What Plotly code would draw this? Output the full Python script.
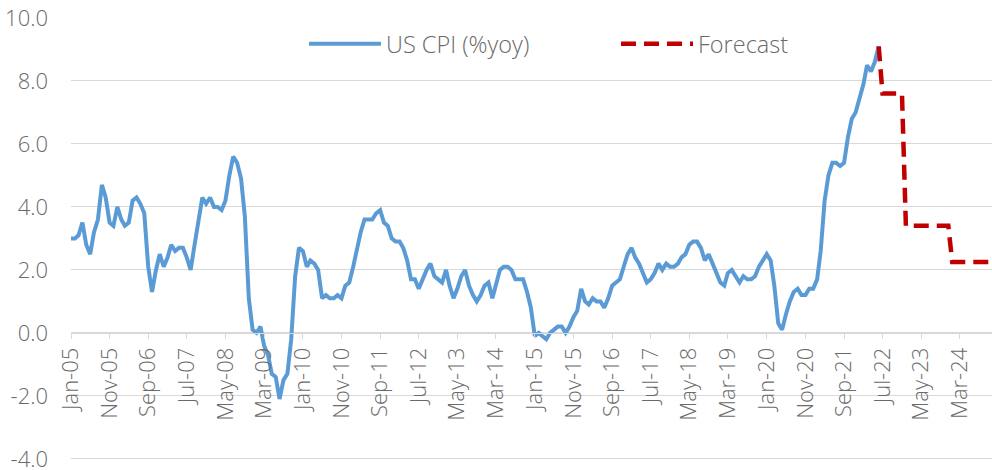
import pandas as pd
import plotly.graph_objects as go

# US CPI (%yoy), monthly, Jan-05 .. Jun-22
cpi_yoy = [
    3.0, 3.0, 3.1, 3.5, 2.8, 2.5, 3.2, 3.6, 4.7, 4.3, 3.5, 3.4,   # 2005
    4.0, 3.6, 3.4, 3.5, 4.2, 4.3, 4.1, 3.8, 2.1, 1.3, 2.0, 2.5,   # 2006
    2.1, 2.4, 2.8, 2.6, 2.7, 2.7, 2.4, 2.0, 2.8, 3.5, 4.3, 4.1,   # 2007
    4.3, 4.0, 4.0, 3.9, 4.2, 5.0, 5.6, 5.4, 4.9, 3.7, 1.1, 0.1,   # 2008
    0.0, 0.2, -0.4, -0.7, -1.3, -1.4, -2.1, -1.5, -1.3, -0.2, 1.8, 2.7,  # 2009
    2.6, 2.1, 2.3, 2.2, 2.0, 1.1, 1.2, 1.1, 1.1, 1.2, 1.1, 1.5,   # 2010
    1.6, 2.1, 2.7, 3.2, 3.6, 3.6, 3.6, 3.8, 3.9, 3.5, 3.4, 3.0,   # 2011
    2.9, 2.9, 2.7, 2.3, 1.7, 1.7, 1.4, 1.7, 2.0, 2.2, 1.8, 1.7,   # 2012
    1.6, 2.0, 1.5, 1.1, 1.4, 1.8, 2.0, 1.5, 1.2, 1.0, 1.2, 1.5,   # 2013
    1.6, 1.1, 1.5, 2.0, 2.1, 2.1, 2.0, 1.7, 1.7, 1.7, 1.3, 0.8,   # 2014
    -0.1, 0.0, -0.1, -0.2, 0.0, 0.1, 0.2, 0.2, 0.0, 0.2, 0.5, 0.7,  # 2015
    1.4, 1.0, 0.9, 1.1, 1.0, 1.0, 0.8, 1.1, 1.5, 1.6, 1.7, 2.1,   # 2016
    2.5, 2.7, 2.4, 2.2, 1.9, 1.6, 1.7, 1.9, 2.2, 2.0, 2.2, 2.1,   # 2017
    2.1, 2.2, 2.4, 2.5, 2.8, 2.9, 2.9, 2.7, 2.3, 2.5, 2.2, 1.9,   # 2018
    1.6, 1.5, 1.9, 2.0, 1.8, 1.6, 1.8, 1.7, 1.7, 1.8, 2.1, 2.3,   # 2019
    2.5, 2.3, 1.5, 0.3, 0.1, 0.6, 1.0, 1.3, 1.4, 1.2, 1.2, 1.4,   # 2020
    1.4, 1.7, 2.6, 4.2, 5.0, 5.4, 5.4, 5.3, 5.4, 6.2, 6.8, 7.0,   # 2021
    7.5, 7.9, 8.5, 8.3, 8.6, 9.1,                                 # 2022 H1
]

# Forecast, monthly, Jun-22 .. Dec-24
forecast_yoy = [9.1] + [7.6] * 6 + [3.4] * 12 + [2.25] * 12

tick_labels = ["Jan-05", "Nov-05", "Sep-06", "Jul-07", "May-08", "Mar-09",
               "Jan-10", "Nov-10", "Sep-11", "Jul-12", "May-13", "Mar-14",
               "Jan-15", "Nov-15", "Sep-16", "Jul-17", "May-18", "Mar-19",
               "Jan-20", "Nov-20", "Sep-21", "Jul-22", "May-23", "Mar-24"]

y_ticks = [-4, -2, 0, 2, 4, 6, 8, 10]

cpi_dates = pd.date_range("2005-01-01", periods=len(cpi_yoy), freq="MS")
fc_dates = pd.date_range("2022-06-01", periods=len(forecast_yoy), freq="MS")
tick_vals = [pd.to_datetime(t, format="%b-%y") for t in tick_labels]

FONT = "Open Sans, Segoe UI, DejaVu Sans, sans-serif"
GRAY_TXT = "#6a6a6a"
GRID = "#d9d9d9"
TICK_SIZE = 22
LEG_SIZE = 23.5

Y_MIN, Y_MAX = -4.1, 10.0   # small pad below -4 so the -4.0 gridline is kept

fig = go.Figure()
fig.add_trace(go.Scatter(
    x=cpi_dates, y=cpi_yoy, mode="lines", name="US CPI (%yoy)",
    line=dict(color="#5B9BD5", width=4), legend="legend",
))
fig.add_trace(go.Scatter(
    x=fc_dates, y=forecast_yoy, mode="lines", name="Forecast",
    line=dict(color="#C00000", width=4.5, dash="15px,8px"), legend="legend2",
))

leg_common = dict(
    orientation="h", xanchor="left", yanchor="middle",
    font=dict(size=LEG_SIZE, color=GRAY_TXT, family=FONT, weight=300),
    bgcolor="rgba(0,0,0,0)", itemwidth=72, borderwidth=0,
)
leg_y = 1 - (44 - 18) / 444.15

fig.update_layout(
    width=992, height=470,
    margin=dict(l=71, r=0, t=18, b=7.85, autoexpand=False),
    paper_bgcolor="white", plot_bgcolor="white",
    font=dict(family=FONT, color=GRAY_TXT, size=TICK_SIZE, weight=300),
    showlegend=True,
    legend=dict(x=(304 - 71) / 921, y=leg_y, **leg_common),
    legend2=dict(x=(616 - 71) / 921, y=leg_y, **leg_common),
)
fig.update_yaxes(
    range=[Y_MIN, Y_MAX], tickvals=y_ticks, ticktext=[f"{v:.1f}" for v in y_ticks],
    showgrid=True, gridcolor=GRID, gridwidth=1, zeroline=False, showline=False,
    ticks="", ticklabelstandoff=22, automargin=False, ticklabeloverflow="allow",
    tickfont=dict(size=TICK_SIZE, color=GRAY_TXT, family=FONT, weight=300),
)
fig.update_xaxes(
    range=["2005-01-01", "2024-11-09"], tickvals=tick_vals, ticktext=tick_labels,
    tickangle=-90, showgrid=False, zeroline=False, automargin=False,
    showline=True, linecolor=GRID, linewidth=1, ticklabeloverflow="allow",
    ticks="outside", ticklen=5, tickcolor=GRID, tickwidth=1,
    anchor="free", position=(0 - Y_MIN) / (Y_MAX - Y_MIN),
    tickfont=dict(size=TICK_SIZE, color=GRAY_TXT, family=FONT, weight=300),
)

fig.write_html("out.html", config={"displayModeBar": False},
               post_script="document.body.style.margin='0px';")
